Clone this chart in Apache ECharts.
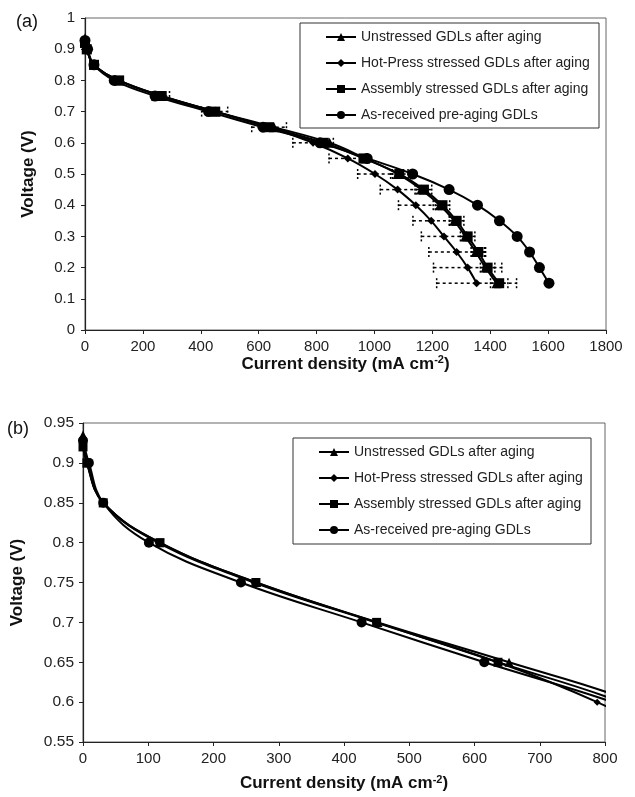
<!DOCTYPE html>
<html>
<head>
<meta charset="utf-8">
<script src="https://cdn.jsdelivr.net/npm/echarts@6/dist/echarts.min.js"></script>
<style>html,body{margin:0;padding:0;background:#fff;}#c{width:635px;height:797px;}</style>
</head>
<body>
<div id="c"></div>
<script>
// Voltage levels (V) shared by all polarisation curves (after the open-circuit point)
const voltage = [0.9, 0.85, 0.8, 0.75, 0.7, 0.65, 0.6, 0.55, 0.5, 0.45, 0.4, 0.35, 0.3, 0.25, 0.2, 0.15];
// Open-circuit voltage (current = 0) per series
const seriesNames = ['Unstressed GDLs after aging', 'Hot-Press stressed GDLs after aging', 'Assembly stressed GDLs after aging', 'As-received pre-aging GDLs'];
const ocvVoltage = [0.935, 0.925, 0.92, 0.928];
// Current density (mA cm-2) at each voltage level
const unstressed = [6, 31, 118, 266, 452, 653, 845, 968, 1080, 1162, 1226, 1276, 1314, 1350, 1384, 1422];
const hotPress   = [6, 31, 115, 262, 448, 636, 788, 908, 1002, 1080, 1143, 1196, 1240, 1284, 1322, 1353];
const assembly   = [6, 31, 118, 265, 450, 636, 825, 962, 1086, 1171, 1235, 1284, 1322, 1359, 1391, 1431];
const asReceived = [9, 31, 101, 242, 427, 615, 812, 975, 1132, 1258, 1356, 1432, 1493, 1536, 1570, 1603];
// Horizontal error (± mA cm-2)
const hotPressErr = [0, 0, 0, 30, 45, 60, 70, 65, 60, 60, 60, 63, 78, 96, 118, 138];
const assemblyErr = [0, 0, 0, 0, 0, 0, 0, 0, 30, 27, 25, 25, 25, 25, 25, 30];
// Axis ticks
const xTicksA = {min: 0, max: 1800, interval: 200};
const yTicksA = {min: 0, max: 1, interval: 0.1};
const xTicksB = {min: 0, max: 800, interval: 100};
const yTicksB = {min: 0.55, max: 0.95, interval: 0.05};

const currents = [unstressed, hotPress, assembly, asReceived];
const symbols = ['triangle', 'diamond', 'rect', 'circle'];
const symSizeA = [10, 8, 10, 11];
const symSizeB = [9, 7, 9, 10];

function pts(i) {
  const d = [[0, ocvVoltage[i]]];
  currents[i].forEach((c, k) => d.push([c, voltage[k]]));
  return d;
}
function errPts(cur, err) {
  const d = [];
  cur.forEach((c, k) => { if (err[k] > 0) d.push([c, voltage[k], err[k]]); });
  return d;
}

const series = [];
[0, 1].forEach(g => {
  seriesNames.forEach((n, i) => {
    series.push({
      name: n, type: 'line', xAxisIndex: g, yAxisIndex: g,
      data: pts(i), smooth: 0.4,
      symbol: symbols[i], symbolSize: (g === 0 ? symSizeA : symSizeB)[i],
      showAllSymbol: true, clip: true,
      lineStyle: {color: '#000', width: 2},
      itemStyle: {color: '#000'},
      z: 3
    });
  });
});

function errRender(params, api) {
  const x = api.value(0), y = api.value(1), e = api.value(2);
  const p1 = api.coord([x - e, y]);
  const p2 = api.coord([x + e, y]);
  const st = {stroke: '#000', lineWidth: 1.5, lineDash: [3, 3]};
  return {
    type: 'group',
    children: [
      {type: 'line', shape: {x1: p1[0], y1: p1[1], x2: p2[0], y2: p2[1]}, style: st},
      {type: 'line', shape: {x1: p1[0], y1: p1[1] - 5, x2: p1[0], y2: p1[1] + 5}, style: {stroke: '#000', lineWidth: 1.5, lineDash: [2, 2]}},
      {type: 'line', shape: {x1: p2[0], y1: p2[1] - 5, x2: p2[0], y2: p2[1] + 5}, style: {stroke: '#000', lineWidth: 1.5, lineDash: [2, 2]}}
    ]
  };
}
series.push({type: 'custom', name: 'errHP', xAxisIndex: 0, yAxisIndex: 0, renderItem: errRender, data: errPts(hotPress, hotPressErr), encode: {x: 0, y: 1}, z: 2, silent: true});
series.push({type: 'custom', name: 'errAS', xAxisIndex: 0, yAxisIndex: 0, renderItem: errRender, data: errPts(assembly, assemblyErr), encode: {x: 0, y: 1}, z: 2, silent: true});

const font = 'Liberation Sans, Arial, sans-serif';
const axisCommon = {
  axisLine: {show: true, onZero: false, lineStyle: {color: '#222', width: 1.2}},
  axisTick: {show: true, inside: false, length: 4, lineStyle: {color: '#222'}},
  splitLine: {show: false},
  axisLabel: {color: '#222', fontFamily: font, fontSize: 15, margin: 9, formatter: v => String(v)}
};
const xNameStyle = {color: '#111', fontFamily: font, fontSize: 17, fontWeight: 'bold',
  rich: {sup: {fontSize: 11, fontWeight: 'bold', fontFamily: font, color: '#111', verticalAlign: 'top', padding: [0, 0, 8, 0]}}};
const xName = {name: 'Current density (mA cm{sup|-2})', nameLocation: 'middle', nameTextStyle: xNameStyle};
const yName = {
  name: 'Voltage (V)', nameLocation: 'middle', nameRotate: 90,
  nameTextStyle: {color: '#111', fontFamily: font, fontSize: 17, fontWeight: 'bold'}
};

const option = {
  animation: false,
  backgroundColor: '#fff',
  grid: [
    {left: 85, right: 29, top: 18, height: 312, show: true, borderColor: '#666', borderWidth: 1},
    {left: 83, right: 30, top: 423, height: 319, show: true, borderColor: '#666', borderWidth: 1}
  ],
  xAxis: [
    Object.assign({type: 'value', gridIndex: 0}, xTicksA, axisCommon, xName, {nameGap: 18}),
    Object.assign({type: 'value', gridIndex: 1}, xTicksB, axisCommon, xName, {nameGap: 32})
  ],
  yAxis: [
    Object.assign({type: 'value', gridIndex: 0}, yTicksA, axisCommon, yName, {nameGap: 48,
      axisLabel: Object.assign({}, axisCommon.axisLabel, {margin: 10, formatter: v => String(Math.round(v * 10) / 10)})}),
    Object.assign({type: 'value', gridIndex: 1}, yTicksB, axisCommon, yName, {nameGap: 57,
      axisLabel: Object.assign({}, axisCommon.axisLabel, {margin: 9, fontSize: 15.5, formatter: v => String(Math.round(v * 100) / 100)})})
  ],
  legend: [
    {data: seriesNames, orient: 'vertical', left: 325, top: 29, itemWidth: 30, itemHeight: 10, itemGap: 10, padding: 0,
      selectedMode: false, textStyle: {color: '#222', fontFamily: font, fontSize: 14, lineHeight: 16}},
    {data: seriesNames, orient: 'vertical', left: 318, top: 444, itemWidth: 30, itemHeight: 10, itemGap: 10, padding: 0,
      selectedMode: false, textStyle: {color: '#222', fontFamily: font, fontSize: 14, lineHeight: 16}}
  ],
  graphic: [
    {type: 'rect', shape: {x: 300, y: 23, width: 299, height: 105}, style: {fill: 'none', stroke: '#333', lineWidth: 1}, z: 10},
    {type: 'rect', shape: {x: 293, y: 438, width: 298, height: 106}, style: {fill: 'none', stroke: '#333', lineWidth: 1}, z: 10},
    {type: 'text', left: 16, top: 13, style: {text: '(a)', fontFamily: font, fontSize: 18, fill: '#111'}},
    {type: 'text', left: 7, top: 420, style: {text: '(b)', fontFamily: font, fontSize: 18, fill: '#111'}}
  ],
  series: series
};
const chart = echarts.init(document.getElementById('c'), null, {renderer: 'canvas'});
chart.setOption(option);
</script>
</body>
</html>
